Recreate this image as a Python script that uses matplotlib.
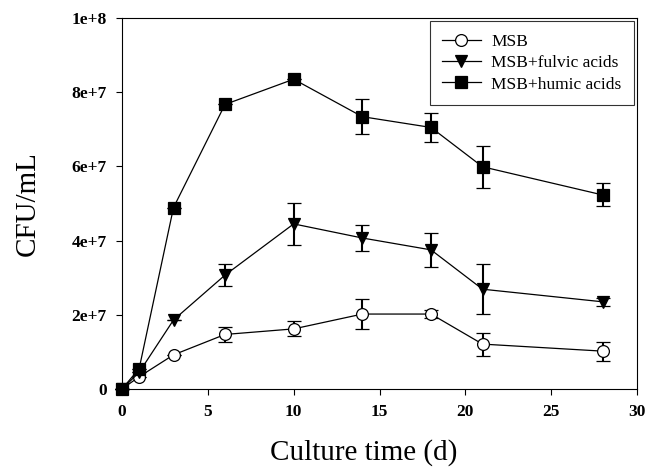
import matplotlib
matplotlib.use("Agg")
import matplotlib.pyplot as plt
from matplotlib.lines import Line2D

days = [0, 1, 3, 6, 10, 14, 18, 21, 28]

msb = [0, 3.3e6, 9.2e6, 1.47e7, 1.62e7, 2.02e7, 2.02e7, 1.21e7, 1.02e7]
msb_err = [0, 0, 0, 2.1e6, 2.0e6, 4.0e6, 1.0e6, 3.1e6, 2.6e6]

fulvic = [0, 4.5e6, 1.86e7, 3.07e7, 4.45e7, 4.07e7, 3.75e7, 2.69e7, 2.35e7]
fulvic_err = [0, 0, 0, 3.0e6, 5.7e6, 3.5e6, 4.5e6, 6.7e6, 1.0e6]

humic = [0, 5.5e6, 4.89e7, 7.67e7, 8.35e7, 7.34e7, 7.05e7, 5.99e7, 5.23e7]
humic_err = [0, 0, 0, 0, 0, 4.8e6, 3.8e6, 5.6e6, 3.1e6]

labels = ["MSB", "MSB+fulvic acids", "MSB+humic acids"]
yticks = [0, 2e7, 4e7, 6e7, 8e7, 1e8]
yticklabels = ["0", "2e+7", "4e+7", "6e+7", "8e+7", "1e+8"]
xticks = [0, 5, 10, 15, 20, 25, 30]

plt.rcParams["font.family"] = ["Liberation Serif", "DejaVu Serif"]

fig = plt.figure(figsize=(6.57, 4.69), dpi=100)
ax = fig.add_axes([0.1857, 0.1706, 0.7839, 0.791])

styles = [
    dict(marker="o", markersize=8.5, markerfacecolor="white"),
    dict(marker="v", markersize=9, markerfacecolor="black"),
    dict(marker="s", markersize=8, markerfacecolor="black"),
]
series = [(msb, msb_err), (fulvic, fulvic_err), (humic, humic_err)]

handles = []
for (vals, err), st, lab in zip(series, styles, labels):
    ax.errorbar(days, vals, yerr=err, color="black", linewidth=0.9,
                elinewidth=1.5, capsize=5, capthick=1.5, clip_on=False,
                markeredgecolor="black", markeredgewidth=0.9, zorder=3, **st)
    handles.append(Line2D([], [], color="black", linewidth=0.9,
                          markeredgecolor="black", markeredgewidth=0.9,
                          label=lab, **st))

ax.set_xlim(0, 30)
ax.set_ylim(0, 1e8)
ax.set_xticks(xticks)
ax.set_xticklabels([str(t) for t in xticks], fontweight="bold", fontsize=12.5)
ax.set_yticks(yticks)
ax.set_yticklabels(yticklabels, fontweight="bold", fontsize=12.5)
ax.tick_params(direction="out", length=4, width=0.8, pad=7)
for s in ax.spines.values():
    s.set_linewidth(0.8)

ax.set_xlabel("Culture time (d)", fontsize=21)
ax.xaxis.set_label_coords(0.47, -0.135)
ax.set_ylabel("CFU/mL", fontsize=21)
ax.yaxis.set_label_coords(-0.158, 0.5)

leg = ax.legend(handles=handles, loc="upper right", fontsize=12.5, frameon=True,
                fancybox=False, edgecolor="black", handlelength=2.25,
                handletextpad=0.6, borderaxespad=0.2, labelspacing=0.3,
                borderpad=0.7)
leg.get_frame().set_linewidth(0.8)

fig.savefig("out.png", dpi=100)
